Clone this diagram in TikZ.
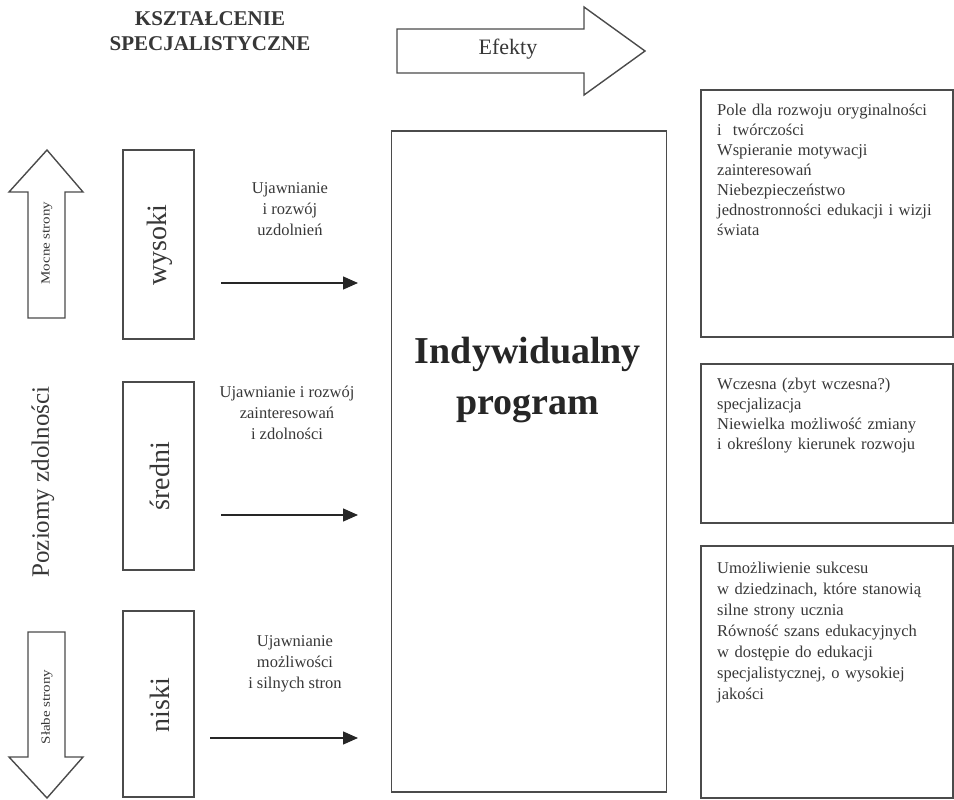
\documentclass[tikz,border=0pt]{standalone}
\usepackage{fontspec}
\setmainfont{Liberation Serif}
\usetikzlibrary{arrows.meta}
\definecolor{ink}{RGB}{55,55,55}
\definecolor{linec}{RGB}{75,75,75}
\begin{document}
\begin{tikzpicture}[x=1pt,y=-1pt,
  boxed/.style={draw=linec,line width=1.6pt},
  blockarrow/.style={draw=linec,line width=1.4pt,fill=white,line join=miter},
  flow/.style={draw=black!85,line width=1.4pt,-{Triangle[length=15pt,width=13pt]}},
  lbl/.style={text=ink,align=center,font=\fontsize{16.5}{21}\selectfont,inner sep=0pt},
  effect/.style={text=ink,align=left,anchor=north west,text width=232pt,font=\fontsize{16.5}{20}\selectfont,inner sep=0pt},
  level/.style={text=ink,rotate=90,font=\fontsize{28}{30}\selectfont,inner sep=0pt}]
\useasboundingbox (0,0) rectangle (954,800);
% title
\node[text=ink,align=center,font=\bfseries\fontsize{21}{25}\selectfont,inner sep=0pt] (title) at (210,31) {KSZTAŁCENIE\\SPECJALISTYCZNE};
% Efekty block arrow
\draw[blockarrow] (397,29) -- (584,29) -- (584,7) -- (645,51) -- (584,95) -- (584,73) -- (397,73) -- cycle;
\node[text=ink,font=\fontsize{22}{24}\selectfont,inner sep=0pt] (efekty) at (508,49) {Efekty};
% up arrow
\draw[blockarrow] (28,318) -- (28,192) -- (9,192) -- (47,150) -- (83,192) -- (65,192) -- (65,318) -- cycle;
\node[text=ink,rotate=90,inner sep=0pt] (mocne) at (47,243) {\scalebox{1.2}[1]{\fontsize{12.5}{14}\selectfont Mocne strony}};
% down arrow
\draw[blockarrow] (28,632) -- (28,757) -- (9,757) -- (47,798) -- (83,757) -- (65,757) -- (65,632) -- cycle;
\node[text=ink,rotate=90,inner sep=0pt] (slabe) at (47,707) {\scalebox{1.2}[1]{\fontsize{12.5}{14}\selectfont Słabe strony}};
% Poziomy zdolnosci
\node[text=ink,rotate=90,font=\fontsize{25}{27}\selectfont,inner sep=0pt] (poziomy) at (43,482) {Poziomy zdolności};
% level boxes
\draw[boxed] (123,150) rectangle (194,339);
\node[level] (wysoki) at (160,245) {wysoki};
\draw[boxed] (123,382) rectangle (194,570);
\node[level] (sredni) at (160,476) {średni};
\draw[boxed] (123,611) rectangle (194,797);
\node[level] (niski) at (160,705) {niski};
% main box
\node[boxed,minimum width=275pt,minimum height=661pt,inner sep=0pt] (main) at (529,461.5) {};
\node[text=black!85,align=center,font=\bfseries\fontsize{38}{51}\selectfont,inner sep=0pt] (maintxt) at (528,380) {Indywidualny\\program};
% labels
\node[lbl] (l1) at (290,209) {Ujawnianie\\i rozwój\\uzdolnień};
\node[lbl] (l2) at (287,413) {Ujawnianie i rozwój\\zainteresowań\\i zdolności};
\node[lbl] (l3) at (295,664) {Ujawnianie\\możliwości\\i silnych stron};
% flow arrows
\coordinate (a1s) at (221,283); \coordinate (a1e) at (358,283);
\coordinate (a2s) at (221,515); \coordinate (a2e) at (358,515);
\coordinate (a3s) at (210,738); \coordinate (a3e) at (358,738);
\draw[flow] (a1s) -- (a1e);
\draw[flow] (a2s) -- (a2e);
\draw[flow] (a3s) -- (a3e);
% effect boxes
\draw[boxed] (701,90) rectangle (953,337);
\node[effect] (e1) at (717,104) {Pole dla rozwoju oryginalności\\ i\ \ twórczości\\Wspieranie motywacji\\zainteresowań\\Niebezpieczeństwo\\jednostronności edukacji i wizji\\świata};
\draw[boxed] (701,364) rectangle (953,523);
\node[effect] (e2) at (717,378) {Wczesna (zbyt wczesna?)\\specjalizacja\\Niewielka możliwość zmiany\\i określony kierunek rozwoju};
\draw[boxed] (701,546) rectangle (953,798);
\node[effect,font=\fontsize{16.5}{21}\selectfont] (e3) at (717,562) {Umożliwienie sukcesu\\w dziedzinach, które stanowią\\silne strony ucznia\\Równość szans edukacyjnych\\w dostępie do edukacji\\specjalistycznej, o wysokiej\\jakości};
\end{tikzpicture}
\end{document}
